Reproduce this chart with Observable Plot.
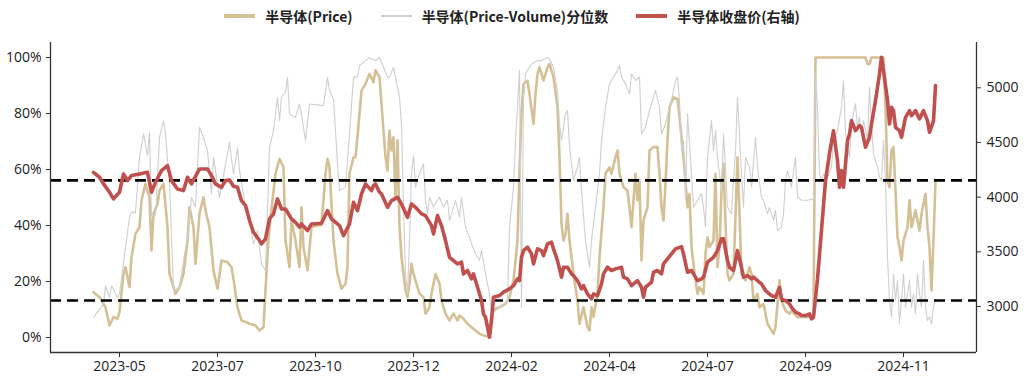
<!DOCTYPE html>
<html>
<head>
<meta charset="utf-8">
<script src="https://cdn.jsdelivr.net/npm/d3@7"></script>
<script src="https://cdn.jsdelivr.net/npm/@observablehq/plot@0.6"></script>
<style>
  html, body { margin: 0; padding: 0; background: #fff; }
  #legend { height: 32px; display: flex; justify-content: center; align-items: center; gap: 28px;
            font-family: "Noto Sans CJK SC", "Noto Sans", sans-serif; font-weight: bold; font-size: 14px; color: #222; }
  .item { display: flex; align-items: center; gap: 10px; }
  .sw { display: inline-block; width: 31px; }
</style>
</head>
<body>
<div id="legend"></div>
<div id="chart"></div>
<script>
// ---- data (x = trading-day index from the first observation) ----
const seriesNames = ["半导体(Price)", "半导体(Price-Volume)分位数", "半导体收盘价(右轴)"];
const seriesColors = ["#d5c096", "#cfcfcf", "#c0504d"];

const xTickDays = [13, 62, 111, 160, 209, 258, 307, 356, 405];
const xTickLabels = ["2023-05", "2023-07", "2023-10", "2023-12", "2024-02", "2024-04", "2024-07", "2024-09", "2024-11"];
const leftTicks = [0, 20, 40, 60, 80, 100];
const rightTicks = [3000, 3500, 4000, 4500, 5000];
const thresholds = [56.1, 13.2];

// 半导体(Price) percentile, %
const pricePct = [[0,16.2],[3,14.4],[6,10.8],[8,4.3],[10,7.3],[12,6.7],[13,9.1],[15,22.7],[16,25.1],[18,18],[19,28.7],[21,37],[23,39.4],[24,49],[26,54.9],[28,50.1],[29,31.1],[30,44.2],[32,47.7],[33,52.5],[35,54.9],[37,39.4],[38,22.7],[41,15.6],[43,18],[45,22.7],[47,34.6],[48,46.5],[50,39.4],[51,26.3],[53,44.2],[55,50.1],[56,45.4],[58,39.4],[60,23.9],[62,17.4],[64,27.5],[67,26.9],[69,25.1],[70,21],[72,10.8],[74,6.1],[78,4.9],[81,4.3],[83,2.5],[85,3.7],[87,29.9],[88,39.4],[91,58.5],[93,63.8],[95,60.8],[96,34.6],[98,25.1],[99,41.8],[101,34.6],[103,25.1],[104,46.5],[105,32.3],[107,24],[109,39.4],[112,40],[114,40],[116,58.5],[117,63.8],[118,60.8],[120,34.6],[122,22.7],[124,17.4],[126,19.2],[127,25.1],[128,58.5],[130,64.4],[131,64.4],[133,79.9],[134,88.2],[136,90.6],[138,94.2],[140,91.2],[141,95.4],[143,93],[145,73.9],[146,64.4],[147,59.6],[148,73.9],[149,66.8],[150,71.5],[151,49],[152,70.4],[153,39.4],[154,28.7],[156,16.7],[157,14.4],[158,19.2],[159,26.3],[160,22.7],[162,18],[163,15.6],[165,14.4],[166,8.5],[168,10.8],[169,15.6],[171,22.7],[173,19.2],[174,13.2],[176,8.5],[178,6.1],[180,8.5],[182,6.1],[183,7.9],[185,6.7],[187,4.9],[189,3.7],[191,2.5],[193,1.3],[196,0.5],[198,0.1],[199,8.5],[201,10.3],[203,10.8],[206,12],[208,14.4],[210,20.4],[212,34.6],[213,60],[214,80],[215,90.6],[217,91.7],[218,87],[220,76.3],[221,87],[222,94.2],[223,96.5],[225,91.8],[227,96.5],[228,97.7],[230,93],[232,82.3],[233,64.4],[234,40.6],[235,34.6],[236,37],[237,44.2],[238,34.6],[240,22.7],[242,13.2],[243,4.9],[245,10.8],[247,3.7],[248,2.5],[249,10.8],[250,7.3],[252,15.6],[253,28.7],[255,46.5],[256,58.5],[258,60.8],[259,58.5],[261,64.4],[262,66.8],[263,58.5],[265,53.7],[267,52.5],[268,46.5],[269,39.4],[271,58.5],[272,49],[273,56.1],[274,27.5],[275,41.8],[277,46.5],[278,66.8],[280,68],[282,68],[283,58.5],[284,46.5],[285,41.8],[286,54.9],[287,70.4],[288,82.3],[290,85.8],[292,85.2],[293,78.7],[295,64.4],[297,46.5],[298,51.3],[299,32.3],[301,20.4],[302,15.6],[303,18],[305,15.6],[306,29.9],[307,35.8],[308,32.3],[310,34.6],[311,58.5],[312,25.1],[313,32.3],[314,52.5],[315,62],[316,40.6],[317,22.7],[318,20.4],[320,22.7],[322,64.4],[323,44.2],[324,22.7],[326,20.4],[328,25.1],[329,22.7],[330,13.2],[332,15.6],[333,10.8],[335,12],[337,4.9],[338,3.7],[340,1.3],[341,3.7],[343,20.4],[344,13.2],[346,9.6],[348,8.5],[349,9.6],[352,7.3],[354,7.3],[357,7.3],[360,7.9],[361,100],[386,100],[387,97.7],[388,97.7],[389,100],[395,100],[396,82.3],[397,56.1],[398,53.7],[399,66.8],[400,68],[401,52.5],[402,35.8],[403,32.3],[404,27.5],[405,34.6],[407,39.4],[408,49],[409,39.4],[411,45.4],[413,38.2],[414,44.2],[416,51.3],[417,39.4],[418,32.3],[419,16.8],[420,34.6],[421,56.1]];

// 半导体(Price-Volume) percentile, %
const priceVolumePct = [[0,7.2],[5,12],[6,18.5],[8,14.4],[9,18.5],[12,14.4],[13,15.6],[16,32.2],[18,42.9],[19,44.7],[21,44.7],[23,64.4],[25,72.7],[27,65],[28,73.3],[29,43.5],[31,43.5],[33,71.5],[35,77.5],[36,72.7],[38,54.8],[40,16.7],[43,17.9],[45,27.5],[47,35.8],[49,50],[51,46.5],[53,75],[55,71.5],[57,66.7],[59,51.3],[60,64.4],[63,50],[67,65.6],[68,69.7],[70,58.4],[72,67.9],[73,59.6],[76,46.5],[78,41.7],[80,33.4],[82,38.2],[84,26.3],[86,23.9],[88,67.9],[90,73.9],[92,85.8],[93,77.5],[94,85.8],[96,87.6],[97,92.9],[98,79.8],[101,78.6],[103,83.4],[104,79.8],[106,70.3],[108,83.4],[115,82.8],[117,92.9],[118,88.2],[120,85.2],[122,62],[123,52.5],[126,53.7],[128,72.7],[130,93],[132,93],[133,97.1],[136,98.9],[138,99.9],[141,98.9],[143,100],[145,96.5],[147,93],[148,93],[150,96.5],[152,89.4],[153,85.8],[154,76.3],[155,46.5],[156,22.7],[157,15.6],[158,34.6],[159,58.5],[160,65],[161,53.7],[163,58.5],[165,62],[166,49],[167,44.2],[168,50.1],[170,46.5],[172,49],[173,50.1],[175,46.5],[177,49],[178,41.8],[180,46.5],[181,49],[183,43],[184,50.1],[186,39.4],[188,35.8],[189,33.5],[191,29.9],[193,27.5],[194,31.1],[196,22.7],[198,15.6],[199,8.5],[201,9.6],[203,10.8],[206,12],[207,13.2],[208,39.4],[210,53.7],[211,70.4],[212,82.3],[213,95.4],[214,10.8],[215,84.6],[216,94.2],[217,95.4],[219,97.7],[222,98.9],[224,98.9],[227,100],[228,99.5],[230,96.5],[232,88.2],[233,76.3],[234,70.4],[236,79.9],[237,81.1],[238,68],[240,56.1],[242,60.8],[243,64.4],[244,52.5],[246,34.6],[248,25.1],[249,34.6],[251,46.5],[253,58.5],[254,70.4],[256,82.3],[258,90.6],[260,93],[262,95.4],[263,97.1],[264,93],[266,90.6],[268,87],[269,94.2],[271,91.8],[273,93],[274,72.7],[276,75.1],[278,81.1],[279,83.5],[281,88.2],[283,82.3],[284,72.7],[286,76.3],[288,82.3],[289,84.6],[291,91.8],[292,93],[293,84.6],[294,66.8],[295,70.4],[296,49],[297,79.9],[299,58.5],[300,46.5],[302,49],[304,51.3],[305,46.5],[306,39.4],[307,64.4],[309,77.5],[310,66.8],[311,74],[312,64.4],[314,52.5],[315,72.7],[316,60.8],[317,46.5],[319,44.2],[320,56.1],[321,66.8],[322,85.8],[324,58.5],[325,46.5],[326,64.4],[328,60.8],[329,53.7],[331,71.5],[332,60.8],[334,50.1],[335,49],[337,44.2],[338,46.5],[340,41.8],[341,45.4],[342,38.2],[344,39.4],[345,44.2],[346,56.1],[347,59.6],[349,53.7],[351,64.4],[352,50.1],[354,49],[357,49],[359,49.5],[360,49],[361,94.2],[362,82.3],[363,58.5],[364,56.1],[365,58.5],[367,57.3],[369,60.8],[370,70.4],[372,74],[374,82.3],[375,91.8],[376,72.7],[378,64.4],[379,76.3],[380,79.9],[381,83.5],[382,75.1],[383,78.7],[384,72.7],[385,77.5],[387,70.4],[388,89.4],[389,76.3],[390,65.6],[391,63.2],[392,60.8],[393,57.3],[394,56.1],[395,70.4],[396,56.1],[397,28.7],[398,13.2],[399,7.3],[400,22.7],[401,13.2],[402,20.4],[403,4.9],[404,13.2],[405,22.7],[406,10.8],[407,15.6],[408,20.4],[409,10.8],[410,15.6],[411,8.5],[412,22.7],[413,15.6],[414,10.8],[415,27.5],[416,10.8],[417,6.1],[418,7.3],[419,4.9],[420,10.8],[421,13.2]];

// 半导体收盘价 (right axis)
const closePrice = [[0,4227],[3,4182],[5,4121],[8,4045],[10,3984],[13,4045],[15,4212],[17,4151],[19,4197],[23,4212],[27,4227],[29,4045],[31,4136],[34,4243],[37,4288],[39,4151],[42,4075],[45,4060],[47,4182],[49,4121],[53,4258],[57,4258],[59,4197],[61,4121],[64,4090],[66,4151],[68,4157],[70,4100],[72,4090],[74,3968],[76,3923],[78,3786],[80,3679],[83,3603],[84,3572],[86,3618],[88,3801],[90,3847],[92,3984],[94,3892],[96,3892],[99,3801],[101,3770],[103,3725],[104,3755],[107,3694],[109,3755],[114,3761],[117,3877],[119,3801],[123,3740],[125,3648],[128,3755],[130,3953],[132,3877],[134,4029],[136,4121],[139,4060],[140,4105],[141,4121],[143,4045],[144,4029],[147,3907],[149,3968],[152,3999],[154,3938],[157,3816],[159,3938],[161,3907],[164,3847],[166,3831],[169,3740],[170,3664],[172,3831],[174,3740],[176,3603],[178,3450],[180,3420],[182,3389],[184,3405],[185,3298],[187,3329],[189,3252],[190,3298],[192,3176],[194,3054],[195,2932],[196,2902],[198,2719],[199,2871],[200,3085],[203,3100],[205,3131],[208,3161],[210,3191],[212,3252],[213,3237],[214,3450],[215,3511],[217,3542],[219,3481],[220,3389],[222,3527],[224,3511],[225,3466],[227,3572],[229,3588],[230,3527],[232,3420],[234,3268],[235,3359],[237,3359],[239,3298],[240,3283],[242,3237],[244,3161],[245,3191],[247,3115],[249,3069],[250,3115],[252,3100],[254,3207],[255,3298],[257,3359],[259,3329],[261,3344],[264,3359],[265,3268],[267,3252],[269,3191],[272,3237],[274,3176],[275,3085],[276,3176],[279,3222],[280,3313],[282,3329],[284,3298],[285,3389],[287,3435],[289,3481],[291,3527],[294,3548],[295,3481],[297,3313],[299,3329],[300,3298],[302,3237],[304,3252],[305,3268],[307,3405],[309,3435],[310,3450],[312,3511],[314,3618],[315,3618],[317,3420],[318,3359],[320,3329],[322,3511],[324,3359],[325,3268],[327,3283],[329,3252],[330,3268],[332,3237],[334,3207],[336,3146],[339,3100],[341,3085],[343,3176],[344,3069],[346,3054],[348,3024],[349,2993],[351,2948],[353,2932],[354,2917],[356,2917],[358,2932],[359,2887],[360,2900],[362,3250],[364,3700],[366,4150],[368,4400],[370,4608],[372,4334],[373,4090],[374,4243],[375,4090],[377,4517],[378,4578],[379,4700],[381,4608],[383,4654],[384,4639],[385,4547],[386,4456],[388,4547],[389,4669],[391,4883],[393,5126],[394,5279],[395,5157],[397,4883],[398,4669],[399,4822],[400,4791],[401,4639],[403,4608],[404,4547],[406,4730],[408,4791],[409,4745],[411,4791],[413,4715],[415,4791],[417,4700],[418,4593],[420,4700],[421,5020]];

// ---- legend ----
const legend = document.getElementById("legend");
const swH = [4, 1.5, 4.5];
seriesNames.forEach((name, i) => {
  const item = document.createElement("div");
  item.className = "item";
  const sw = document.createElement("span");
  sw.className = "sw";
  sw.style.height = swH[i] + "px";
  sw.style.background = seriesColors[i];
  const t = document.createElement("span");
  t.textContent = name;
  item.appendChild(sw); item.appendChild(t);
  legend.appendChild(item);
});

// ---- chart ----
const xDomain = [-21.5, 441.5];
const yDomain = [-5.36, 105.36];
// right-axis price mapped onto the left (percent) scale
const priceToPct = d3.scaleLinear().domain([3000, 5000]).range([11.07, 89.18]);
const spine = "#333";

const chart = Plot.plot({
  width: 1024,
  height: 351,
  marginLeft: 50,
  marginRight: 48,
  marginTop: 10,
  marginBottom: 31,
  x: {domain: xDomain},
  y: {domain: yDomain},
  style: {fontFamily: "'Open Sans', 'Noto Sans', sans-serif", fontSize: "14px", color: "#222", background: "#fff"},
  marks: [
    Plot.line(pricePct, {x: d => d[0], y: d => d[1], stroke: seriesColors[0], strokeWidth: 2.6, strokeLinejoin: "round"}),
    Plot.line(priceVolumePct, {x: d => d[0], y: d => d[1], stroke: seriesColors[1], strokeWidth: 1.1}),
    Plot.ruleY(thresholds, {stroke: "#000", strokeWidth: 2.6, strokeDasharray: "11,6"}),
    Plot.line(closePrice, {x: d => d[0], y: d => priceToPct(d[1]), stroke: seriesColors[2], strokeWidth: 3.6, strokeLinejoin: "round"}),
    Plot.ruleX([xDomain[0], xDomain[1]], {stroke: spine, strokeWidth: 1.3}),
    Plot.ruleY([yDomain[0]], {stroke: spine, strokeWidth: 1.3}),
    Plot.axisY(leftTicks, {anchor: "left", label: null, tickSize: 4, tickPadding: 5, stroke: spine, tickFormat: d => d + "%"}),
    Plot.axisY(rightTicks.map(v => priceToPct(v)), {anchor: "right", label: null, tickSize: 4, tickPadding: 6, stroke: spine,
      tickFormat: d => String(Math.round(priceToPct.invert(d)))}),
    Plot.axisX(xTickDays, {anchor: "bottom", label: null, tickSize: 5, tickPadding: 4, stroke: spine,
      tickFormat: d => xTickLabels[xTickDays.indexOf(d)]})
  ]
});
document.getElementById("chart").appendChild(chart);
</script>
</body>
</html>
